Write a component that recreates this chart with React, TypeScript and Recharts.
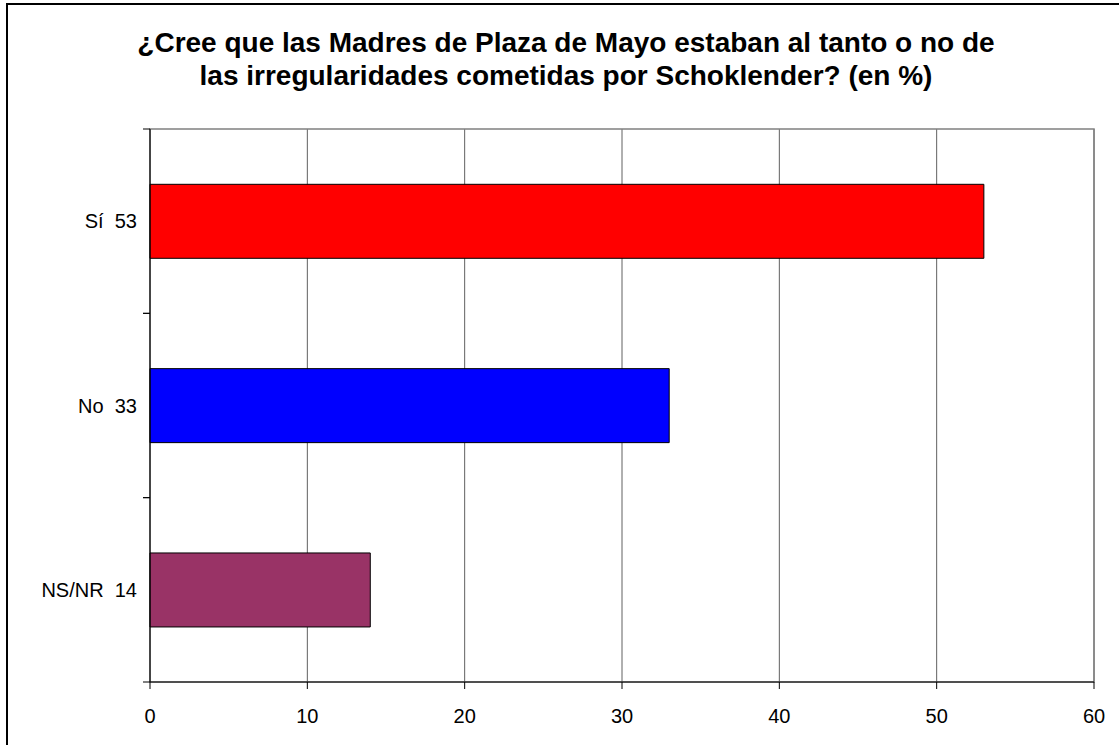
import React from 'react';
import { BarChart, Bar, XAxis, YAxis, CartesianGrid, Cell, ReferenceArea } from 'recharts';

const categories = ['Sí\u00a0\u00a053', 'No\u00a0\u00a033', 'NS/NR\u00a0\u00a014'];
const values = [53, 33, 14];
const colors = ['#FF0000', '#0000FF', '#993366'];
const xTicks = [0, 10, 20, 30, 40, 50, 60];
const titleLines = [
  '¿Cree que las Madres de Plaza de Mayo estaban al tanto o no de',
  'las irregularidades cometidas por Schoklender? (en %)',
];

const data = categories.map((c, i) => ({ name: c, value: values[i] }));

const FONT = '"Liberation Sans", Arial, sans-serif';

const CatTick = (props: any) => {
  const { x, y, payload } = props;
  const half = payload && payload.offset ? payload.offset : 0;
  return (
    <g>
      <line x1={x + 6} x2={x + 13} y1={y - half} y2={y - half} stroke="#000" strokeWidth={1} />
      <line x1={x + 6} x2={x + 13} y1={y + half} y2={y + half} stroke="#000" strokeWidth={1} />
      <text x={x} y={y} dy="0.355em" textAnchor="end" fontSize={20} fill="#000" fontFamily={FONT}>
        {payload.value}
      </text>
    </g>
  );
};

export default function App() {
  return (
    <div style={{ position: 'fixed', left: 0, top: 0, right: 0, bottom: 0, overflow: 'hidden', background: '#fff' }}>
      <div style={{ position: 'absolute', left: 6, top: 3, width: 2000, height: 2000, border: '2px solid #000' }} />
      <div style={{ position: 'absolute', left: 0, top: 0, width: 1119, height: 745 }}>
        <BarChart
          width={1119}
          height={745}
          data={data}
          layout="vertical"
          margin={{ top: 129, right: 25, bottom: 0, left: 0 }}
          barCategoryGap="30%"
        >
          <CartesianGrid horizontal={false} stroke="#606060" strokeWidth={1} />
          <ReferenceArea x1={0} x2={60} fill="none" stroke="#808080" strokeWidth={1.5} ifOverflow="visible" />
          <XAxis
            type="number"
            domain={[0, 60]}
            ticks={xTicks}
            height={63}
            tickSize={7}
            tickMargin={20}
            axisLine={{ stroke: '#000' }}
            tickLine={{ stroke: '#000' }}
            tick={{ fontSize: 20, fill: '#000', fontFamily: FONT }}
            interval={0}
          />
          <YAxis
            type="category"
            dataKey="name"
            width={150}
            tickSize={0}
            tickMargin={13}
            axisLine={{ stroke: '#000' }}
            tickLine={false}
            tick={<CatTick />}
            interval={0}
          />
          <Bar dataKey="value" stroke="#000" strokeWidth={1} isAnimationActive={false}>
            {data.map((d, i) => (
              <Cell key={d.name} fill={colors[i]} />
            ))}
          </Bar>
        </BarChart>
      </div>
      <div
        style={{
          position: 'absolute',
          left: 66,
          width: 1000,
          top: 25.8,
          textAlign: 'center',
          fontFamily: FONT,
          fontWeight: 'bold',
          fontSize: 28,
          lineHeight: '33px',
          color: '#000',
          whiteSpace: 'nowrap',
        }}
      >
        {titleLines.map((l) => (
          <div key={l}>{l}</div>
        ))}
      </div>
    </div>
  );
}
